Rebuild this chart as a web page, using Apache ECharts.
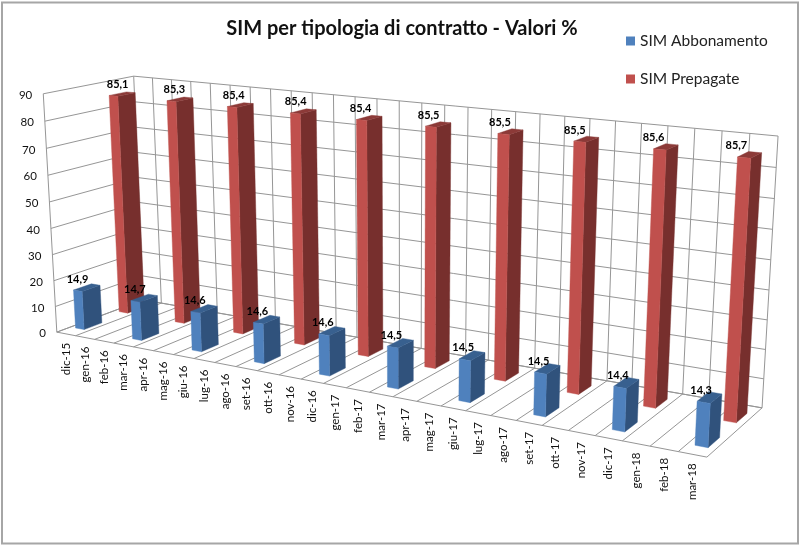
<!DOCTYPE html>
<html>
<head>
<meta charset="utf-8">
<style>html,body{margin:0;padding:0;background:#fff}#c{width:800px;height:546px}</style>
<script src="https://cdn.jsdelivr.net/npm/echarts@6/dist/echarts.min.js"></script>
</head>
<body>
<div id="c"></div>
<script>
const months = ['dic-15','gen-16','feb-16','mar-16','apr-16','mag-16','giu-16','lug-16','ago-16','set-16','ott-16','nov-16','dic-16','gen-17','feb-17','mar-17','apr-17','mag-17','giu-17','lug-17','ago-17','set-17','ott-17','nov-17','dic-17','gen-18','feb-18','mar-18'];
const barMonths = ['dic-15','mar-16','giu-16','set-16','dic-16','mar-17','giu-17','set-17','dic-17','mar-18'];
const abbonamento = [14.9,14.7,14.6,14.6,14.6,14.5,14.5,14.5,14.4,14.3];
const prepagate = [85.1,85.3,85.4,85.4,85.4,85.5,85.5,85.5,85.6,85.7];
const yTicks = [0,10,20,30,40,50,60,70,80,90];
const titleText = 'SIM per tipologia di contratto - Valori %';

// Camera: where the corners of the unit box (u along months, v in depth, h in height) appear
const boxCorners = [
  [0,0,0, 57,332],[0,0,1, 43,94],[0,1,0, 143,300],[0,1,1, 134,76],
  [1,0,0, 707,457],[1,1,0, 762,408],[1,1,1, 778,136]
];
function fitCamera(pts){
  const n=11, A=[...Array(n)].map(()=>Array(n+1).fill(0));
  const add=(r,b)=>{for(let i=0;i<n;i++){for(let j=0;j<n;j++)A[i][j]+=r[i]*r[j];A[i][n]+=r[i]*b;}};
  pts.forEach(([u,v,h,x,y])=>{
    add([u,v,h,1,0,0,0,0,-x*u,-x*v,-x*h],x);
    add([0,0,0,0,u,v,h,1,-y*u,-y*v,-y*h],y);
  });
  for(let i=0;i<n;i++){
    let p=i;for(let k=i+1;k<n;k++)if(Math.abs(A[k][i])>Math.abs(A[p][i]))p=k;
    [A[i],A[p]]=[A[p],A[i]];
    for(let k=0;k<n;k++){if(k===i)continue;const f=A[k][i]/A[i][i];for(let j=i;j<=n;j++)A[k][j]-=f*A[i][j];}
  }
  return A.map((r,i)=>r[n]/r[i]);
}
const cam = fitCamera(boxCorners);
function project(u,v,h){
  const w=cam[8]*u+cam[9]*v+cam[10]*h+1;
  return [(cam[0]*u+cam[1]*v+cam[2]*h+cam[3])/w,(cam[4]*u+cam[5]*v+cam[6]*h+cam[7])/w];
}

const gridBox = {left:100,top:100,width:560,height:360};
// Library scales -> unit box coordinates
function unitX(api,i){return (api.coord([i,0])[0]-api.size([1,0])[0]/2-gridBox.left)/gridBox.width;}
function unitH(api,val){return (gridBox.top+gridBox.height-api.coord([0,val])[1])/gridBox.height;}

const lineColor='#969696', textColor='#111';
const axisFont='Lato, "Open Sans", sans-serif';
function seg(a,b,w){return {type:'line',silent:true,shape:{x1:a[0],y1:a[1],x2:b[0],y2:b[1]},style:{stroke:lineColor,lineWidth:w||1,fill:null}};}
function poly(points,fill){return {type:'polygon',silent:true,shape:{points},style:{fill,stroke:fill,lineWidth:0.4}};}

function renderValueAxis(params,api){
  const h=unitH(api,api.value(0));
  const a=project(0,0,h),b=project(0,1,h),c=project(1,1,h);
  return {type:'group',children:[seg(a,b),seg(b,c),
    {type:'text',silent:true,style:{text:String(api.value(0)),x:a[0]-11,y:a[1]+1.5,align:'right',verticalAlign:'middle',font:'11.5px '+axisFont,fill:textColor}}]};
}
function renderCategoryAxis(params,api){
  const i=api.value(0),du=1/months.length,u=unitX(api,i);
  const kids=[];
  const f=project(u,0,0),g=project(u,1,0),t=project(u,1,1);
  kids.push(seg(f,g),seg(g,t));
  if(i===months.length-1){
    const f2=project(1,0,0),g2=project(1,1,0),t2=project(1,1,1);
    kids.push(seg(f2,g2),seg(g2,t2));
  }
  const m=project(u+du/2,0,0);
  kids.push({type:'text',silent:true,rotation:Math.PI/2,x:m[0],y:m[1]+9,style:{text:months[i],x:0,y:0,align:'right',verticalAlign:'middle',font:'11.5px '+axisFont,fill:textColor}});
  return {type:'group',children:kids};
}
function renderFrame(){
  return {type:'group',children:[
    seg(project(0,0,0),project(1,0,0)),
    seg(project(0,0,0),project(0,0,1)),
    seg(project(0,1,0),project(1,1,0))
  ]};
}
function barRenderer(vRange,colors,labelDx){
  return function(params,api){
    const i=api.value(0),val=api.value(1),du=1/months.length;
    const u0=unitX(api,i)+du*0.27,u1=unitX(api,i)+du*0.73,h=unitH(api,val);
    const [v0,v1]=vRange;
    const A=project(u0,v0,0),B=project(u1,v0,0),C=project(u1,v0,h),D=project(u0,v0,h);
    const E=project(u1,v1,0),F=project(u1,v1,h),G=project(u0,v1,h);
    return {type:'group',children:[
      poly([B,E,F,C],colors.side),
      poly([D,C,F,G],colors.top),
      poly([A,B,C,D],colors.front),
      {type:'text',silent:true,z2:50,style:{text:String(val).replace('.',','),x:D[0]+labelDx(i/months.length),y:D[1]-11,align:'center',verticalAlign:'middle',font:'bold 11px '+axisFont,fill:'#000'}}
    ]};
  };
}
const blue={front:'#4F81BD',side:'#30527C',top:'#38608F'};
const red={front:'#C0504D',side:'#772F2D',top:'#8C3A38'};

const chart=echarts.init(document.getElementById('c'),null,{renderer:'canvas'});
chart.setOption({
  animation:false,
  backgroundColor:'#fff',
  title:{text:titleText,left:397,textAlign:'center',top:14,textStyle:{fontFamily:'Lato',fontWeight:'bold',fontSize:20,color:'#111'}},
  legend:{orient:'vertical',left:621,top:28,itemWidth:9,itemHeight:9,itemGap:22,icon:'rect',data:['SIM Abbonamento','SIM Prepagate'],textStyle:{fontFamily:'Lato',fontSize:15.5,color:'#222'},selectedMode:false},
  grid:Object.assign({show:false},gridBox),
  xAxis:{type:'category',data:months,show:false},
  yAxis:{type:'value',min:0,max:90,interval:10,show:false},
  graphic:[{type:'rect',silent:true,z:-1,shape:{x:2,y:2.5,width:796,height:541},style:{fill:'#fff',stroke:'#A6A6A6',lineWidth:2}}],
  series:[
    {type:'custom',name:'_asseY',coordinateSystem:'cartesian2d',data:yTicks.map(v=>[v]),encode:{y:0,x:-1},dimensions:['v'],clip:false,silent:true,renderItem:renderValueAxis},
    {type:'custom',name:'_asseX',coordinateSystem:'cartesian2d',data:months.map((m,i)=>[i]),encode:{x:0},clip:false,silent:true,renderItem:renderCategoryAxis},
    {type:'custom',name:'_cornice',coordinateSystem:'cartesian2d',data:[[0]],encode:{x:0},clip:false,silent:true,renderItem:renderFrame},
    {type:'custom',name:'SIM Prepagate',coordinateSystem:'cartesian2d',itemStyle:{color:red.front},data:barMonths.map((m,k)=>[months.indexOf(m),prepagate[k]]),encode:{x:0,y:1},clip:false,silent:true,
      renderItem:barRenderer([0.65,0.85],red,u=>8.5-10*u)},
    {type:'custom',name:'SIM Abbonamento',coordinateSystem:'cartesian2d',itemStyle:{color:blue.front},data:barMonths.map((m,k)=>[months.indexOf(m),abbonamento[k]]),encode:{x:0,y:1},clip:false,silent:true,
      renderItem:barRenderer([0.15,0.35],blue,u=>4)}
  ]
});
</script>
</body>
</html>
